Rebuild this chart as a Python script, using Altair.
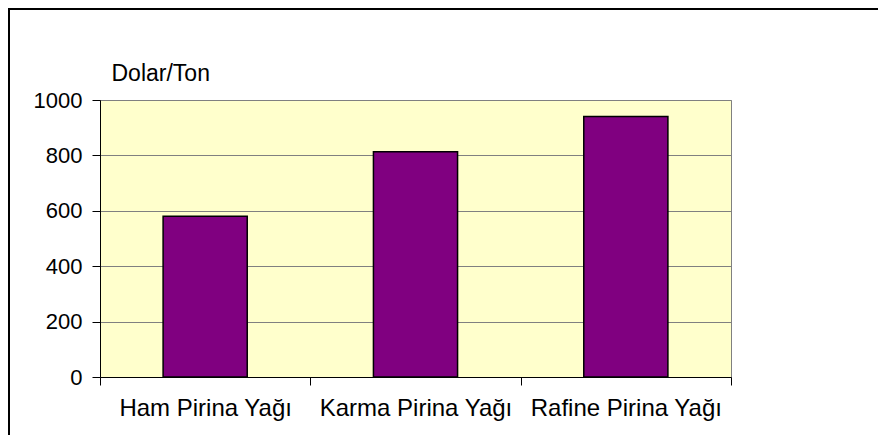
import altair as alt
import pandas as pd

categories = ["Ham Pirina Yağı", "Karma Pirina Yağı", "Rafine Pirina Yağı"]
values = [580, 813, 940]
y_ticks = [0, 200, 400, 600, 800, 1000]

df = pd.DataFrame({"urun": categories, "deger": values})

FONT = "Liberation Sans"

bars = alt.Chart(df).mark_bar(
    color="#800080", stroke="#000000", strokeWidth=1.5,
    width=alt.RelativeBandSize(0.4),
).encode(
    x=alt.X(
        "urun:N",
        sort=None,
        title=None,
        scale=alt.Scale(paddingInner=0, paddingOuter=0),
        axis=alt.Axis(
            labelAngle=0,
            labelFont=FONT,
            labelFontSize=24,
            labelColor="#000000",
            labelPadding=11,
            labelLimit=0,
            ticks=True,
            tickBand="extent",
            tickExtra=True,
            tickSize=8,
            tickWidth=1,
            tickOpacity=1,
            tickColor="#000000",
            domainColor="#000000",
            grid=False,
        ),
    ),
    y=alt.Y(
        "deger:Q",
        scale=alt.Scale(domain=[0, 1000], nice=False),
        axis=alt.Axis(
            values=y_ticks,
            format="d",
            title="Dolar/Ton",
            titleAngle=0,
            titleAlign="left",
            titleBaseline="alphabetic",
            titleX=11,
            titleY=-20,
            titleFont=FONT,
            titleFontSize=23,
            titleFontWeight="normal",
            titleColor="#000000",
            labelFont=FONT,
            labelFontSize=22,
            labelColor="#000000",
            labelPadding=10,
            tickSize=8,
            tickColor="#000000",
            domainColor="#000000",
            grid=True,
            gridColor="#808080",
            gridWidth=1,
        ),
    ),
)

border = alt.Chart(alt.Data(values=[{}])).mark_rect(
    fill=None, stroke="#000000", strokeWidth=2
).encode(
    x=alt.value(-91),
    x2=alt.value(900),
    y=alt.value(-91),
    y2=alt.value(500),
)

chart = alt.layer(bars, border).properties(
    width=631,
    height=277,
    autosize=alt.AutoSizeParams(type="none"),
    padding={"left": 92, "top": 92, "right": 147, "bottom": 58},
    background="#ffffff",
).configure_view(
    fill="#FFFFCC", stroke="#808080", strokeWidth=1
)

chart.save("out.html", embed_options={"renderer": "svg", "actions": False})
